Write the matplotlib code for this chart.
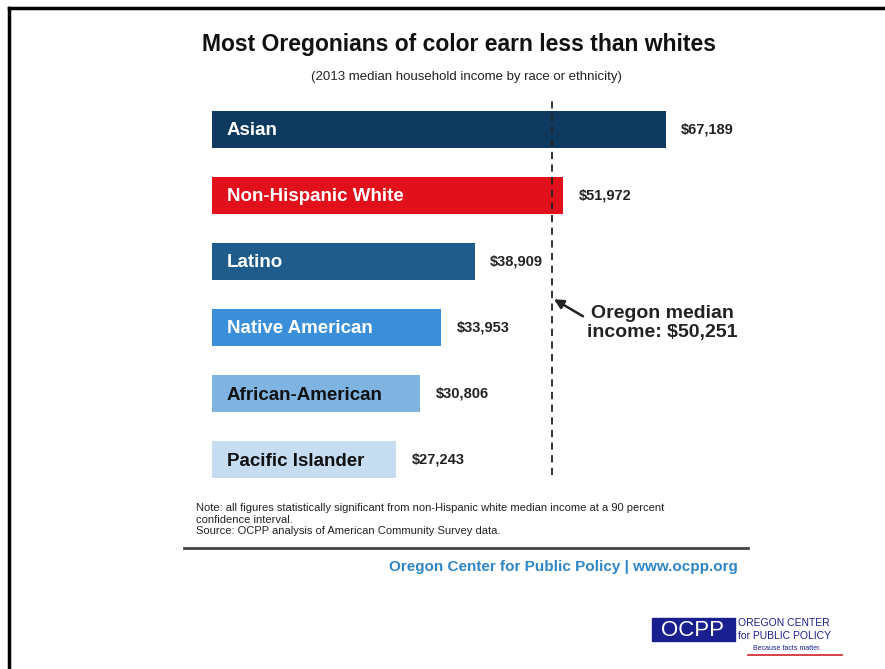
import matplotlib.pyplot as plt
from matplotlib.patches import Rectangle
from matplotlib.lines import Line2D

plt.rcParams['font.family'] = ['Liberation Sans', 'DejaVu Sans']

groups = ["Asian", "Non-Hispanic White", "Latino", "Native American", "African-American", "Pacific Islander"]
income = [67189, 51972, 38909, 33953, 30806, 27243]
colors = ["#0f3a5f", "#e2101b", "#1f5c8c", "#3a8fd8", "#7eb3e2", "#c5dcf1"]
text_colors = ["white", "white", "white", "white", "#111111", "#111111"]
oregon_median = 50251

fig = plt.figure(figsize=(8.85, 6.69), dpi=100)

# bar axes
ax = fig.add_axes([212 / 885, 1 - 493 / 669, 473 / 885, 397 / 669])
ypos = list(range(len(groups)))
ax.barh(ypos, income, height=0.56, color=colors)
ax.set_xlim(0, 70000)
ax.set_ylim(5.5, -0.5)
ax.axis("off")

for y, v, name, tc in zip(ypos, income, groups, text_colors):
    ax.annotate(name, (0, y), xytext=(10.5, -1), textcoords="offset points",
                ha="left", va="center", fontsize=13.5, fontweight="bold", color=tc)
    ax.annotate(f"${v:,}", (v, y), xytext=(11, 0), textcoords="offset points",
                ha="left", va="center", fontsize=10.5, fontweight="bold", color="#222222")

ax.axvline(oregon_median, ymin=0.045, ymax=0.99, color="#222222", lw=1.3, ls=(0, (4, 3)))
ax.annotate("", xy=(oregon_median, 2.55), xytext=(oregon_median + 5000, 2.85),
            arrowprops=dict(arrowstyle="-|>", color="#222222", lw=1.8, mutation_scale=14))
fig.text(662 / 885, 1 - 323 / 669, "Oregon median\nincome: $50,251", ha="center", va="center",
         fontsize=14, fontweight="bold", color="#222222", linespacing=1.1)

# titles
fig.text(459 / 885, 1 - 44 / 669, "Most Oregonians of color earn less than whites",
         ha="center", va="center", fontsize=16.5, fontweight="bold", color="#111111")
fig.text(466 / 885, 1 - 77 / 669, "(2013 median household income by race or ethnicity)",
         ha="center", va="center", fontsize=9.5, color="#222222")

# notes
fig.text(196 / 885, 1 - 503 / 669,
         "Note: all figures statistically significant from non-Hispanic white median income at a 90 percent\n"
         "confidence interval.\nSource: OCPP analysis of American Community Survey data.",
         ha="left", va="top", fontsize=8, color="#222222", linespacing=1.2)
fig.add_artist(Line2D([184 / 885, 748 / 885], [1 - 548 / 669] * 2, color="#444444", lw=2))
fig.text(738 / 885, 1 - 567 / 669, "Oregon Center for Public Policy | www.ocpp.org",
         ha="right", va="center", fontsize=11, fontweight="bold", color="#2e86c8")

# logo
fig.add_artist(Rectangle((652 / 885, 1 - 641 / 669), 83 / 885, 23 / 669, color="#1a1f8f"))
fig.text(693 / 885, 1 - 630 / 669, "OCPP", ha="center", va="center", fontsize=16, color="white")
fig.text(738 / 885, 1 - 623 / 669, "OREGON CENTER", ha="left", va="center", fontsize=7.5, color="#1a1f8f")
fig.text(738 / 885, 1 - 636 / 669, "for PUBLIC POLICY", ha="left", va="center", fontsize=7.5, color="#1a1f8f")
fig.text(753 / 885, 1 - 648 / 669, "Because facts matter.", ha="left", va="center", fontsize=5, color="#1a1f8f")
fig.add_artist(Line2D([748 / 885, 842 / 885], [1 - 655 / 669] * 2, color="#d0202a", lw=1.2))

# slide frame
fig.add_artist(Line2D([9 / 885, 9 / 885], [0, 1 - 8 / 669], color="black", lw=2.5))
fig.add_artist(Line2D([9 / 885, 1], [1 - 8 / 669, 1 - 8 / 669], color="black", lw=2.5))

fig.savefig("out.png", dpi=100)
